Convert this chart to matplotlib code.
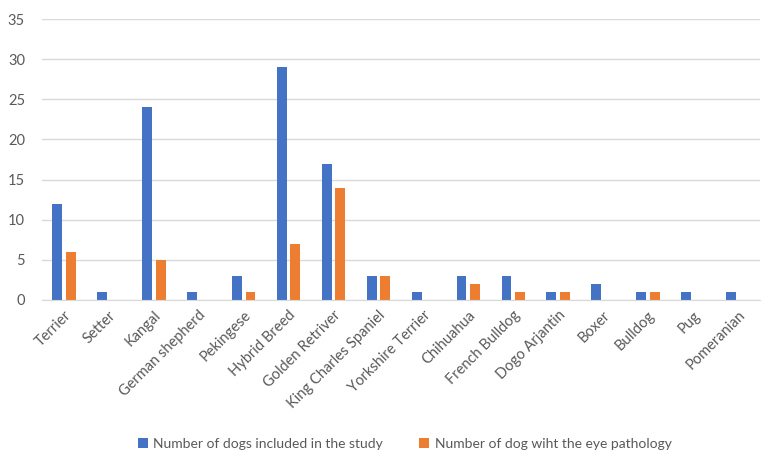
import numpy as np
import matplotlib.pyplot as plt

plt.rcParams['font.family'] = ['Lato', 'DejaVu Sans']

breeds = ['Terrier', 'Setter', 'Kangal', 'German shepherd', 'Pekingese',
          'Hybrid Breed', 'Golden Retriver', 'King Charles Spaniel',
          'Yorkshire Terrier', 'Chihuahua', 'French Bulldog', 'Dogo Arjantin',
          'Boxer', 'Bulldog', 'Pug', 'Pomeranian']
included = [12, 1, 24, 1, 3, 29, 17, 3, 1, 3, 3, 1, 2, 1, 1, 1]
pathology = [6, 0, 5, 0, 1, 7, 14, 3, 0, 2, 1, 1, 0, 1, 0, 0]

labels = ['Number of dogs included in the study',
          'Number of dog wiht the eye pathology']

grey = '#595959'

fig = plt.figure(figsize=(7.71, 4.57), dpi=100)
ax = fig.add_axes([0.054, 0.344, 0.932, 0.614])

x = np.arange(len(breeds))
w = 0.22
ax.bar(x - 0.15, included, w, color='#4472C4', label=labels[0], zorder=3)
ax.bar(x + 0.15, pathology, w, color='#ED7D31', label=labels[1], zorder=3)

ax.set_xlim(-0.5, len(breeds) - 0.5)
ax.set_ylim(0, 35)
ax.set_yticks(range(0, 36, 5))
ax.yaxis.grid(True, color='#d9d9d9', linewidth=1, zorder=0)
ax.set_axisbelow(True)

for s in ['top', 'right', 'left']:
    ax.spines[s].set_visible(False)
ax.spines['bottom'].set_color('#d9d9d9')
ax.spines['bottom'].set_zorder(4)

ax.set_xticks(x)
ax.set_xticklabels(breeds, rotation=45, ha='right', rotation_mode='anchor',
                   fontsize=10.5, color=grey)
ax.tick_params(axis='x', length=0, pad=6)
ax.tick_params(axis='y', length=0, labelsize=10.5, labelcolor=grey, pad=12)

fig.legend(loc='lower center', bbox_to_anchor=(0.525, -0.012), ncol=2,
           frameon=False, fontsize=10, labelcolor=grey,
           handlelength=0.7, handleheight=0.7, columnspacing=2.6,
           handletextpad=0.4)

fig.savefig('out.png', dpi=100)
